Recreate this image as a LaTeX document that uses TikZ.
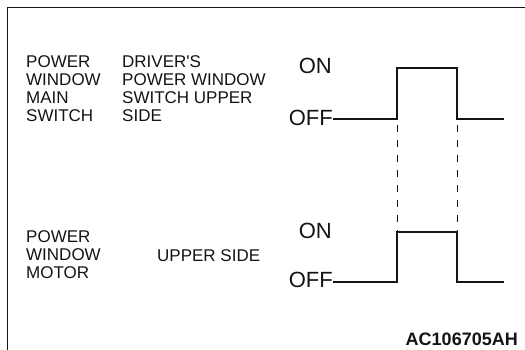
\documentclass[tikz,border=0pt]{standalone}
\usepackage{fontspec}
\setmainfont{Liberation Sans}
\usepackage{tikz}
\usetikzlibrary{positioning, calc}
\definecolor{ink}{RGB}{20,20,20}

\tikzset{
  caption/.style={inner sep=0pt, align=left, anchor=north west, text=ink, font=\fontsize{17}{18}\selectfont},
  level/.style={inner sep=0pt, anchor=east, text=ink, font=\fontsize{22}{22}\selectfont},
  wave/.style={draw=ink, line width=1.6pt},
  guide/.style={draw=ink, line width=0.9pt, dash pattern=on 7pt off 8pt}
}

\begin{document}
\begin{tikzpicture}[x=1pt, y=-1pt]
    \useasboundingbox (0,0) rectangle (525,350);
    \draw[ink, line width=1pt] (7,350) -- (7,8) -- (525,8);

    % switch
    \node[caption] (swName) at (26,55) {POWER\\WINDOW\\MAIN\\SWITCH};
    \node[caption] (swSide) at (122,55) {DRIVER\textquotesingle S\\POWER WINDOW\\SWITCH UPPER\\SIDE};
    \node[level] (swOn) at (332,66) {ON};
    \node[level] (swOff) at (333,118) {OFF};

    % motor
    \node[caption] (mtName) at (26,230) {POWER\\WINDOW\\MOTOR};
    \node[caption, anchor=base west] (mtSide) at (157,261) {UPPER SIDE};
    \node[level] (mtOn) at (332,231) {ON};
    \node[level] (mtOff) at (333,280) {OFF};

    \coordinate (swRise) at (397,68);
    \coordinate (swFall) at (457,119);
    \coordinate (swEnd) at (504,119);
    \coordinate (mtRise) at (397,232);
    \coordinate (mtFall) at (457,282);
    \coordinate (mtEnd) at (504,282);

    \draw[wave] (swOff.east |- swEnd) -| (swRise) -| (swFall) -- (swEnd);
    \draw[wave] (mtOff.east |- mtEnd) -| (mtRise) -| (mtFall) -- (mtEnd);

    \draw[guide] (397,125) -- (mtRise);
    \draw[guide] (457,125) -- (mtRise -| swFall);

    \node[inner sep=0pt, anchor=base east, text=ink, font=\fontsize{18}{18}\selectfont\bfseries] (figId) at (518,345) {AC106705AH};
\end{tikzpicture}
\end{document}
